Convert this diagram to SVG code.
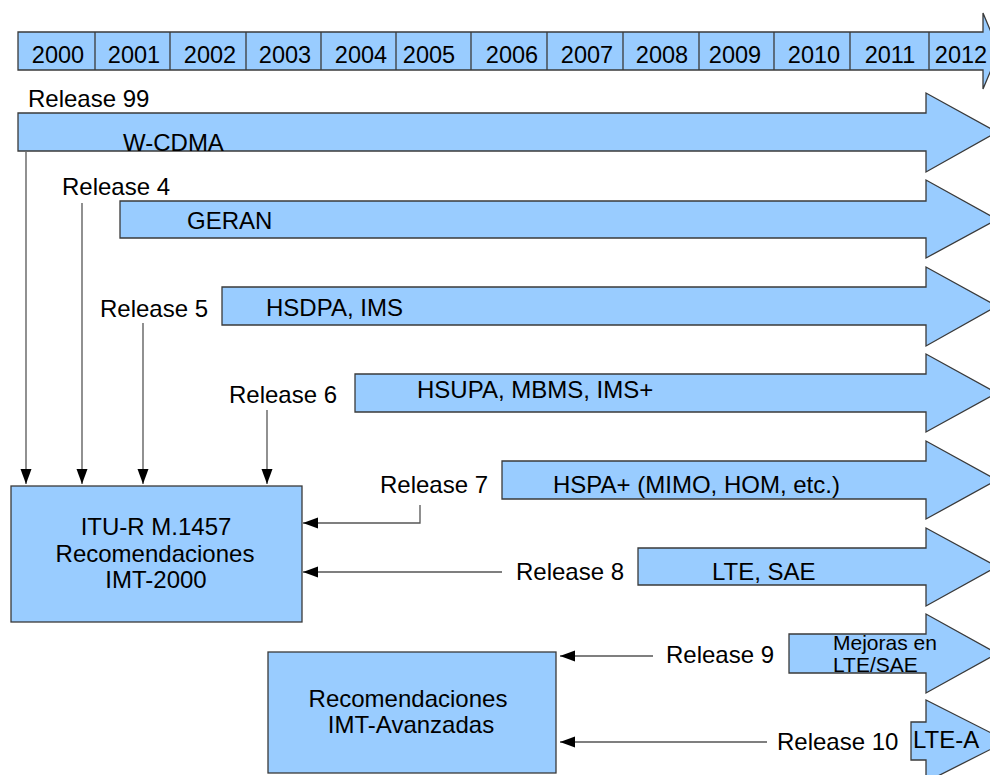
<svg xmlns="http://www.w3.org/2000/svg" width="990" height="775" viewBox="0 0 990 775">
<style>
  .shape { fill: #99ccff; stroke: #3a3a3a; stroke-width: 1.3; }
  .t { font-family: "Liberation Sans", Arial, sans-serif; font-size: 24px; fill: #000; }
  .ts { font-family: "Liberation Sans", Arial, sans-serif; font-size: 21px; fill: #000; }
  .yr { font-family: "Liberation Sans", Arial, sans-serif; font-size: 23.5px; fill: #000; text-anchor: middle; }
  .c { fill: none; stroke: #555; stroke-width: 1.3; }
  .div { stroke: #3a3a3a; stroke-width: 1.3; }
</style>
<defs>
  <marker id="ah" markerUnits="userSpaceOnUse" markerWidth="16" markerHeight="12" refX="15" refY="5.5" orient="auto">
    <path d="M0,0 L15,5.5 L0,11 Z" fill="#000"/>
  </marker>
</defs>
<rect width="990" height="775" fill="#fff"/>

<g id="timeline">
  <polygon class="shape" points="18,32 983,32 983,13 999,51 983,89 983,70 18,70"/>
  <line class="div" x1="95" y1="32" x2="95" y2="70"/>
  <line class="div" x1="170" y1="32" x2="170" y2="70"/>
  <line class="div" x1="246" y1="32" x2="246" y2="70"/>
  <line class="div" x1="321" y1="32" x2="321" y2="70"/>
  <line class="div" x1="396" y1="32" x2="396" y2="70"/>
  <line class="div" x1="471" y1="32" x2="471" y2="70"/>
  <line class="div" x1="547" y1="32" x2="547" y2="70"/>
  <line class="div" x1="623" y1="32" x2="623" y2="70"/>
  <line class="div" x1="699" y1="32" x2="699" y2="70"/>
  <line class="div" x1="774" y1="32" x2="774" y2="70"/>
  <line class="div" x1="850" y1="32" x2="850" y2="70"/>
  <line class="div" x1="929" y1="32" x2="929" y2="70"/>
  <text class="yr" x="58" y="63">2000</text>
  <text class="yr" x="134" y="63">2001</text>
  <text class="yr" x="210" y="63">2002</text>
  <text class="yr" x="285" y="63">2003</text>
  <text class="yr" x="361" y="63">2004</text>
  <text class="yr" x="429" y="63">2005</text>
  <text class="yr" x="512" y="63">2006</text>
  <text class="yr" x="587" y="63">2007</text>
  <text class="yr" x="662" y="63">2008</text>
  <text class="yr" x="735" y="63">2009</text>
  <text class="yr" x="814" y="63">2010</text>
  <text class="yr" x="890" y="63">2011</text>
  <text class="yr" x="961" y="63">2012</text>
</g>

<g id="wcdma">
  <polygon class="shape" points="18,113 926,113 926,93 997,132 926,172 926,151 18,151"/>
  <text class="t" x="123" y="151">W-CDMA</text>
</g>
<g id="geran">
  <polygon class="shape" points="120,201 926,201 926,180 997,219.5 926,258 926,238 120,238"/>
  <text class="t" x="187" y="229">GERAN</text>
</g>
<g id="hsdpa">
  <polygon class="shape" points="222,287 926,287 926,267 997,306 926,346 926,325 222,325"/>
  <text class="t" x="266" y="316">HSDPA, IMS</text>
</g>
<g id="hsupa">
  <polygon class="shape" points="355,374 926,374 926,354 997,393 926,432 926,412 355,412"/>
  <text class="t" x="417" y="398">HSUPA, MBMS, IMS+</text>
</g>
<g id="hspaplus">
  <polygon class="shape" points="502,461 926,461 926,441 997,480 926,519 926,499 502,499"/>
  <text class="t" x="553" y="493">HSPA+ (MIMO, HOM, etc.)</text>
</g>
<g id="lte">
  <polygon class="shape" points="638,548 926,548 926,528 997,566.5 926,606 926,585 638,585"/>
  <text class="t" x="712" y="580">LTE, SAE</text>
</g>
<g id="mejoras">
  <polygon class="shape" points="789,634 926,634 926,614 997,653.5 926,693 926,673 789,673"/>
  <text class="ts" x="833" y="650">Mejoras en</text>
  <text class="ts" x="833" y="672">LTE/SAE</text>
</g>
<g id="ltea">
  <polygon class="shape" points="911,722 926,722 926,700 1007,741 926,782 926,760 911,760"/>
  <text class="t" x="913" y="748">LTE-A</text>
</g>

<g id="itu">
  <rect class="shape" x="11" y="486" width="291" height="136"/>
  <text class="t" x="156" y="535" text-anchor="middle">ITU-R M.1457</text>
  <text class="t" x="155" y="562" text-anchor="middle">Recomendaciones</text>
  <text class="t" x="156" y="588" text-anchor="middle">IMT-2000</text>
</g>
<g id="imtavanzadas">
  <rect class="shape" x="268" y="652" width="288" height="121"/>
  <text class="t" x="408" y="707" text-anchor="middle">Recomendaciones</text>
  <text class="t" x="411" y="733" text-anchor="middle">IMT-Avanzadas</text>
</g>

<g id="labels">
  <text class="t" x="28" y="107">Release 99</text>
  <text class="t" x="62" y="195">Release 4</text>
  <text class="t" x="100" y="317">Release 5</text>
  <text class="t" x="229" y="403">Release 6</text>
  <text class="t" x="380" y="493">Release 7</text>
  <text class="t" x="516" y="580">Release 8</text>
  <text class="t" x="666" y="663">Release 9</text>
  <text class="t" x="777" y="750">Release 10</text>
</g>

<g id="connectors">
  <line class="c" x1="26" y1="152" x2="26" y2="484" marker-end="url(#ah)"/>
  <line class="c" x1="82" y1="203" x2="82" y2="484" marker-end="url(#ah)"/>
  <line class="c" x1="143" y1="323" x2="143" y2="484" marker-end="url(#ah)"/>
  <line class="c" x1="267" y1="410" x2="267" y2="484" marker-end="url(#ah)"/>
  <polyline class="c" points="420,505 420,523 303,523" marker-end="url(#ah)"/>
  <line class="c" x1="502" y1="572" x2="303" y2="572" marker-end="url(#ah)"/>
  <line class="c" x1="653" y1="656" x2="560" y2="656" marker-end="url(#ah)"/>
  <line class="c" x1="767" y1="742" x2="560" y2="742" marker-end="url(#ah)"/>
</g>
</svg>
